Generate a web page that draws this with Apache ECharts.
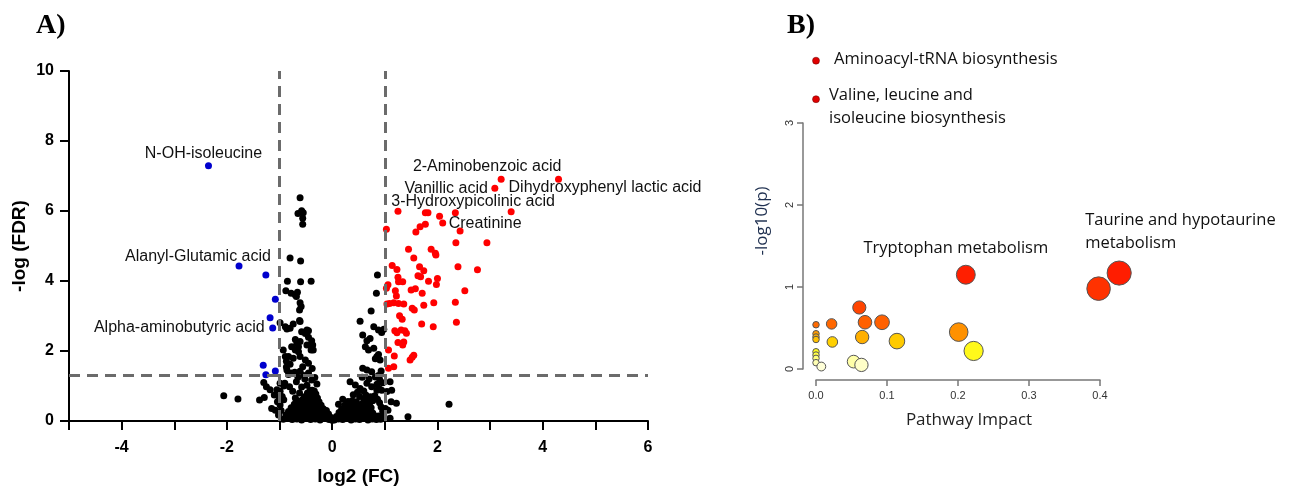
<!DOCTYPE html>
<html>
<head>
<meta charset="utf-8">
<title>Volcano plot and pathway impact</title>
<script src="https://cdn.jsdelivr.net/npm/echarts@6/dist/echarts.min.js"></script>
<style>
  html, body { margin: 0; padding: 0; background: #fff; }
  #chart { width: 1293px; height: 487px; }
</style>
</head>
<body>
<div id="chart"></div>
<script>
  // ---------- A) volcano plot ----------
  const fcTicks = [-4, -2, 0, 2, 4, 6]
  const fcCutoffs = [-1, 1]
  const fdrCutoff = 1.3

  // decreased metabolites (blue)
  const downNames = ['N-OH-isoleucine', 'Alanyl-Glutamic acid', '', '', 'Alpha-aminobutyric acid', '', '', '', '']
  const downPoints = [
    [-2.35, 7.29], [-1.77, 4.43], [-1.26, 4.17], [-1.08, 3.48], [-1.13, 2.66],
    [-1.18, 2.95], [-1.31, 1.59], [-1.26, 1.32], [-1.08, 1.43],
  ]

  // increased metabolites (red)
  const upNames = ['2-Aminobenzoic acid', 'Vanillic acid', 'Dihydroxyphenyl lactic acid', '3-Hydroxypicolinic acid', 'Creatinine']
  const upPoints = [
    [3.21, 6.91], [3.09, 6.65], [4.30, 6.91], [3.40, 5.98], [2.10, 5.66],
    [1.25, 5.99], [1.77, 5.95], [1.82, 5.95], [2.34, 5.95], [2.04, 5.85],
    [1.77, 5.62], [1.67, 5.55], [1.59, 5.40], [1.03, 5.48], [2.43, 5.43],
    [2.35, 5.09], [2.94, 5.09], [1.45, 4.91], [1.88, 4.91], [1.96, 4.79],
    [1.97, 4.74], [1.55, 4.66], [1.14, 4.44], [1.23, 4.33], [1.66, 4.41],
    [1.74, 4.29], [2.39, 4.41], [2.76, 4.32], [1.25, 4.11], [1.63, 4.15],
    [1.68, 4.12], [2.00, 4.07], [1.34, 3.98], [1.26, 3.98], [1.83, 3.99],
    [1.98, 3.90], [1.06, 3.89], [1.03, 3.79], [1.50, 3.74], [1.58, 3.78],
    [2.52, 3.72], [1.20, 3.72], [1.22, 3.57], [1.71, 3.65], [1.17, 3.38],
    [1.09, 3.36], [1.04, 3.34], [1.26, 3.36], [1.36, 3.34], [1.52, 3.22],
    [1.56, 3.17], [1.74, 3.31], [1.93, 3.38], [2.34, 3.39], [1.28, 3.01],
    [1.33, 2.91], [1.70, 2.77], [1.92, 2.69], [2.36, 2.82], [1.19, 2.58],
    [1.23, 2.52], [1.31, 2.60], [1.38, 2.58], [1.41, 2.51], [1.25, 2.24],
    [1.36, 2.26], [1.34, 2.17], [1.07, 2.03], [1.18, 1.86], [1.48, 1.74],
    [1.52, 1.82], [1.55, 1.88], [1.07, 1.51], [1.17, 1.55],
  ]

  // not significant (black)
  const nsPoints = [
    // left column
    [-0.61, 6.38], [-0.65, 5.93], [-0.58, 6.01], [-0.55, 5.95], [-0.56, 5.79], [-0.56, 5.62],
    [-0.80, 4.66], [-0.60, 4.57], [-0.85, 3.99], [-0.60, 3.98], [-0.40, 3.99],
    [-0.88, 3.72], [-0.78, 3.65], [-0.70, 3.60], [-0.66, 3.68], [-0.68, 3.56],
    [-0.61, 3.38], [-0.59, 3.27], [-0.62, 3.17], [-0.62, 2.87], [-0.99, 2.81],
    [-0.89, 2.69], [-0.80, 2.65], [-0.74, 2.77], [-0.61, 2.84], [-0.86, 2.63],
    [-0.58, 2.55], [-0.51, 2.50], [-0.45, 2.58], [-0.48, 2.60], [-0.45, 2.39],
    [-0.70, 2.33], [-0.67, 2.22], [-0.61, 2.27], [-0.64, 2.12], [-0.39, 2.29],
    [-0.37, 2.17], [-0.36, 2.03], [-0.77, 2.12], [-0.70, 2.03], [-0.64, 1.98],
    [-0.48, 2.17], [-0.40, 2.03], [-0.93, 2.03], [-0.83, 1.84], [-0.74, 1.79],
    [-0.89, 1.84], [-0.61, 1.84], [-0.51, 1.74], [-0.45, 1.65], [-0.87, 1.71],
    [-0.80, 1.62], [-0.77, 1.37], [-0.71, 1.39], [-0.61, 1.42], [-0.54, 1.30],
    [-0.45, 1.37], [-0.39, 1.17], [-0.86, 1.46], [-0.83, 1.33], [-0.87, 1.54],
    [-0.56, 1.55], [-0.38, 1.50], [-0.68, 1.12], [-0.58, 0.97], [-0.48, 1.02],
    [-0.38, 0.88], [-0.81, 0.98], [-0.90, 1.08], [-0.95, 0.70], [-0.99, 1.08],
    [-0.92, 1.00], [-0.99, 0.85], [-0.92, 0.61], [-0.99, 0.46], [-0.33, 1.24],
    [-0.29, 1.06], [-0.52, 1.20], [-0.65, 1.25], [-0.75, 0.85], [-0.62, 0.80],
    [-0.70, 0.66],
    // left outliers
    [-2.06, 0.72], [-1.79, 0.63], [-1.38, 0.60], [-1.29, 0.67], [-1.30, 1.10],
    [-1.25, 0.98], [-1.18, 0.89], [-1.15, 0.36], [-1.05, 0.89], [-1.01, 0.69],
    [-1.04, 0.55], [-1.08, 0.31], [-1.02, 0.17], [-1.10, 0.74], [-0.97, 0.30],
    // left blob
    [-0.93, 0.05], [-0.84, 0.08], [-0.76, 0.04], [-0.67, 0.06], [-0.58, 0.03],
    [-0.49, 0.07], [-0.41, 0.04], [-0.32, 0.06], [-0.23, 0.03], [-0.15, 0.07],
    [-0.06, 0.04], [0.00, 0.02], [-0.88, 0.17], [-0.79, 0.14], [-0.71, 0.18],
    [-0.62, 0.15], [-0.53, 0.19], [-0.45, 0.14], [-0.36, 0.17], [-0.27, 0.15],
    [-0.18, 0.18], [-0.10, 0.13], [-0.03, 0.11], [-0.83, 0.27], [-0.74, 0.25],
    [-0.66, 0.29], [-0.57, 0.26], [-0.48, 0.28], [-0.40, 0.25], [-0.31, 0.29],
    [-0.22, 0.26], [-0.13, 0.24], [-0.07, 0.20], [-0.78, 0.38], [-0.69, 0.36],
    [-0.60, 0.39], [-0.52, 0.37], [-0.43, 0.40], [-0.34, 0.36], [-0.26, 0.39],
    [-0.17, 0.35], [-0.11, 0.30], [-0.72, 0.48], [-0.63, 0.47], [-0.55, 0.50],
    [-0.46, 0.48], [-0.37, 0.51], [-0.29, 0.47], [-0.21, 0.45], [-0.66, 0.58],
    [-0.57, 0.60], [-0.49, 0.57], [-0.41, 0.61], [-0.33, 0.58], [-0.25, 0.55],
    [-0.53, 0.69], [-0.44, 0.71], [-0.36, 0.68], [-0.28, 0.66], [-0.47, 0.80],
    [-0.39, 0.78], [-0.31, 0.77], [-0.42, 0.88], [-0.34, 0.86],
    // right blob
    [0.04, 0.03], [0.12, 0.06], [0.20, 0.04], [0.28, 0.07], [0.36, 0.03],
    [0.44, 0.06], [0.52, 0.04], [0.60, 0.07], [0.68, 0.03], [0.76, 0.06],
    [0.84, 0.04], [0.92, 0.05], [0.08, 0.13], [0.16, 0.16], [0.24, 0.14],
    [0.32, 0.17], [0.40, 0.13], [0.48, 0.16], [0.56, 0.14], [0.64, 0.17],
    [0.72, 0.13], [0.80, 0.16], [0.88, 0.14], [0.13, 0.24], [0.21, 0.26],
    [0.29, 0.23], [0.37, 0.27], [0.45, 0.24], [0.53, 0.26], [0.61, 0.24],
    [0.69, 0.27], [0.77, 0.23], [0.18, 0.34], [0.26, 0.36], [0.34, 0.33],
    [0.42, 0.37], [0.50, 0.34], [0.58, 0.36], [0.66, 0.33], [0.74, 0.38],
    [0.24, 0.45], [0.32, 0.47], [0.40, 0.44], [0.48, 0.46], [0.56, 0.48],
    [0.64, 0.45], [0.71, 0.50], [0.30, 0.56], [0.38, 0.58], [0.46, 0.55],
    [0.60, 0.60], [0.68, 0.62], [0.77, 0.58], [0.52, 0.70], [0.64, 0.74],
    [0.73, 0.69], [0.81, 0.72], [0.86, 0.62], [0.90, 0.52], [0.93, 0.40],
    [0.96, 0.28], [0.98, 0.15],
    // right column
    [0.86, 4.17], [0.84, 3.65], [0.74, 3.14], [0.53, 2.85], [0.79, 2.69],
    [0.88, 2.60], [0.94, 2.53], [0.98, 2.62], [0.58, 2.46], [0.66, 2.29],
    [0.72, 2.36], [0.63, 2.12], [0.69, 2.03], [0.79, 2.08], [0.85, 1.84],
    [0.91, 1.74], [0.88, 1.90], [0.82, 1.78], [0.58, 1.51], [0.66, 1.46],
    [0.75, 1.41], [0.82, 1.26], [0.88, 1.30], [0.93, 1.43], [0.90, 1.19],
    [0.96, 1.09], [0.85, 1.05], [0.34, 1.12], [0.44, 1.03], [0.53, 0.93],
    [0.66, 1.08], [0.75, 0.98], [0.85, 0.88], [0.94, 0.88], [0.57, 1.25],
    [0.70, 1.20], [0.48, 0.82], [0.60, 0.86], [0.40, 0.75], [0.20, 0.62],
    [0.12, 0.48],
    // right outliers
    [1.10, 1.12], [1.13, 0.88], [1.12, 0.55], [1.22, 0.51], [1.44, 0.12],
    [2.22, 0.48], [1.04, 0.84], [1.06, 0.31], [1.01, 0.36], [1.10, 0.08],
    [0.89, 0.93],
  ]

  // ---------- B) pathway analysis ----------
  const pathNames = [
    'Tryptophan metabolism', 'Taurine and hypotaurine metabolism', '', '', '',
    '', '', '', '', '', '', '', '', '', '', '', '', '', '', '', '', '', '',
  ]
  const pathImpact = [
    0.211, 0.427, 0.398, 0.201, 0.222, 0.061, 0.069, 0.093, 0.022, 0.0,
    0.065, 0.114, 0.023, 0.0, 0.0, 0.0, 0.0, 0.0, 0.0, 0.0, 0.0075, 0.053, 0.064,
  ]
  const pathLogP = [
    1.15, 1.17, 0.98, 0.45, 0.22, 0.75, 0.57, 0.57, 0.55, 0.54,
    0.39, 0.34, 0.33, 0.43, 0.39, 0.36, 0.21, 0.17, 0.13, 0.077, 0.03, 0.09, 0.05,
  ]
  const topNames = ['Aminoacyl-tRNA biosynthesis', 'Valine, leucine and isoleucine biosynthesis']
  const topImpact = [0.0, 0.0]
  const topLogP = [3.76, 3.29]

  // label placement (style only)
  const labelLook = {
    'N-OH-isoleucine': { align: 'center', offset: [-5, -12] },
    'Alanyl-Glutamic acid': { align: 'center', offset: [-41, -9] },
    'Alpha-aminobutyric acid': { align: 'right', offset: [-8, 0] },
    '2-Aminobenzoic acid': { align: 'center', offset: [-14, -13] },
    'Vanillic acid': { align: 'right', offset: [-7, 0] },
    'Dihydroxyphenyl lactic acid': { align: 'left', offset: [-50, 8] },
    '3-Hydroxypicolinic acid': { align: 'center', offset: [-38, -10] },
    'Creatinine': { align: 'left', offset: [6, 1] },
    'Tryptophan metabolism': { align: 'center', offset: [-10, -26] },
    'Taurine and hypotaurine metabolism': { align: 'left', offset: [-34, -41], text: 'Taurine and hypotaurine\nmetabolism' },
    'Aminoacyl-tRNA biosynthesis': { align: 'left', offset: [18, -1] },
    'Valine, leucine and isoleucine biosynthesis': { align: 'left', offset: [13, 8], text: 'Valine, leucine and\nisoleucine biosynthesis' },
  }

  const fontA = 'Liberation Sans, Arial, sans-serif'
  const fontB = 'Open Sans, Noto Sans, sans-serif'

  function withLabels(points, names, font, size) {
    return points.map((p, i) => {
      const name = names[i] || ''
      const look = labelLook[name]
      if (!look) return { value: p }
      return {
        value: p,
        name: name,
        label: {
          show: true,
          position: 'inside',
          align: look.align,
          verticalAlign: 'middle',
          offset: look.offset,
          formatter: look.text || name,
          fontFamily: font,
          fontSize: size,
          lineHeight: 23,
          color: '#111',
        },
      }
    })
  }

  const bubbleData = withLabels(pathImpact.map((v, i) => [v, pathLogP[i]]), pathNames, fontB, 16.5)
  const topData = withLabels(topImpact.map((v, i) => [v, topLogP[i]]), topNames, fontB, 16.5)

  const chart = echarts.init(document.getElementById('chart'))

  const option = {
    animation: false,
    backgroundColor: '#fff',
    grid: [
      { left: 69, top: 71, width: 579, height: 350, outerBoundsMode: 'none', containLabel: false },
      { left: 816, top: 123, width: 284, height: 246, outerBoundsMode: 'none', containLabel: false },
    ],
    xAxis: [
      {
        gridIndex: 0,
        type: 'value',
        min: -5,
        max: 6,
        interval: 1,
        name: 'log2 (FC)',
        nameLocation: 'middle',
        nameGap: 46,
        nameTextStyle: { fontFamily: fontA, fontWeight: 'bold', fontSize: 19, color: '#000' },
        axisLine: { onZero: false, lineStyle: { color: '#000', width: 2 } },
        axisTick: { length: 9, lineStyle: { color: '#000', width: 2 } },
        axisLabel: {
          formatter: (v) => (fcTicks.includes(v) ? String(v) : ''),
          fontFamily: fontA,
          fontWeight: 'bold',
          fontSize: 16,
          color: '#000',
          margin: 19,
        },
        splitLine: { show: false },
      },
      {
        gridIndex: 1,
        type: 'value',
        min: 0,
        max: 0.4,
        interval: 0.1,
        offset: 11,
        axisLine: { onZero: false, lineStyle: { color: '#777', width: 1.5 } },
        axisTick: { length: 6, lineStyle: { color: '#777', width: 1.5 } },
        axisLabel: {
          formatter: (v) => v.toFixed(1),
          fontFamily: fontA,
          fontSize: 11,
          color: '#333',
          margin: 10,
        },
        splitLine: { show: false },
        name: 'Pathway Impact',
        nameLocation: 'middle',
        nameGap: 32,
        nameTextStyle: { fontFamily: fontB, fontSize: 17, color: '#222', padding: [0, 0, 0, 22] },
      },
    ],
    yAxis: [
      {
        gridIndex: 0,
        type: 'value',
        min: 0,
        max: 10,
        interval: 2,
        name: '-log (FDR)',
        nameLocation: 'middle',
        nameRotate: 90,
        nameGap: 40,
        nameTextStyle: { fontFamily: fontA, fontWeight: 'bold', fontSize: 19, color: '#000' },
        axisLine: { onZero: false, lineStyle: { color: '#000', width: 2 } },
        axisTick: { length: 9, lineStyle: { color: '#000', width: 2 } },
        axisLabel: { fontFamily: fontA, fontWeight: 'bold', fontSize: 16, color: '#000', margin: 15 },
        splitLine: { show: false },
      },
      {
        gridIndex: 1,
        type: 'value',
        min: 0,
        max: 3,
        interval: 1,
        offset: 13,
        axisLine: { onZero: false, lineStyle: { color: '#777', width: 1.5 } },
        axisTick: { length: 6, lineStyle: { color: '#777', width: 1.5 } },
        axisLabel: { rotate: 90, fontFamily: fontA, fontSize: 11, color: '#333', margin: 8 },
        splitLine: { show: false },
      },
    ],
    visualMap: {
      show: false,
      type: 'continuous',
      seriesIndex: 3,
      dimension: 1,
      min: 0,
      max: 1.2,
      inRange: {
        color: ['#fffff0', '#ffffa0', '#ffff20', '#ffe000', '#ffaa00', '#ff7800', '#ff5500',
          '#ff4800', '#ff4000', '#ff3800', '#ff3000', '#ff2400', '#ff1a00'],
      },
    },
    graphic: [
      { type: 'text', left: 36, top: 12, style: { text: 'A)', font: 'bold 28px Liberation Serif, Times New Roman, serif', fill: '#000' } },
      { type: 'text', left: 787, top: 12, style: { text: 'B)', font: 'bold 28px Liberation Serif, Times New Roman, serif', fill: '#000' } },
      {
        type: 'text',
        x: 762,
        y: 221,
        rotation: Math.PI / 2,
        style: { text: '-log10(p)', font: '17px Open Sans, Noto Sans, sans-serif', fill: '#1f3050', align: 'center', verticalAlign: 'middle' },
      },
    ],
    series: [
      {
        name: 'not significant',
        type: 'scatter',
        xAxisIndex: 0,
        yAxisIndex: 0,
        symbolSize: 7,
        itemStyle: { color: '#000', opacity: 1 },
        data: nsPoints,
        markLine: {
          silent: true,
          symbol: 'none',
          label: { show: false },
          lineStyle: { type: [11, 7], color: '#6b6b6b', width: 3, opacity: 1 },
          data: [
            { xAxis: fcCutoffs[0] },
            { xAxis: fcCutoffs[1] },
            { yAxis: fdrCutoff },
          ],
        },
      },
      {
        name: 'increased',
        type: 'scatter',
        xAxisIndex: 0,
        yAxisIndex: 0,
        symbolSize: 7,
        itemStyle: { color: '#ff0000', opacity: 1 },
        data: withLabels(upPoints, upNames, fontA, 16),
      },
      {
        name: 'decreased',
        type: 'scatter',
        xAxisIndex: 0,
        yAxisIndex: 0,
        symbolSize: 7,
        itemStyle: { color: '#0000cd', opacity: 1 },
        data: withLabels(downPoints, downNames, fontA, 16),
      },
      {
        name: 'pathways',
        type: 'scatter',
        xAxisIndex: 1,
        yAxisIndex: 1,
        clip: false,
        symbolSize: (val) => 6.5 + 27 * Math.sqrt(val[0]),
        itemStyle: { borderColor: '#555', borderWidth: 1, opacity: 1 },
        data: bubbleData,
      },
      {
        name: 'top pathways',
        type: 'scatter',
        xAxisIndex: 1,
        yAxisIndex: 1,
        clip: false,
        symbolSize: 7,
        itemStyle: { color: '#e00000', borderColor: '#600', borderWidth: 0.5, opacity: 1 },
        data: topData,
      },
    ],
  }

  chart.setOption(option)
</script>
</body>
</html>
